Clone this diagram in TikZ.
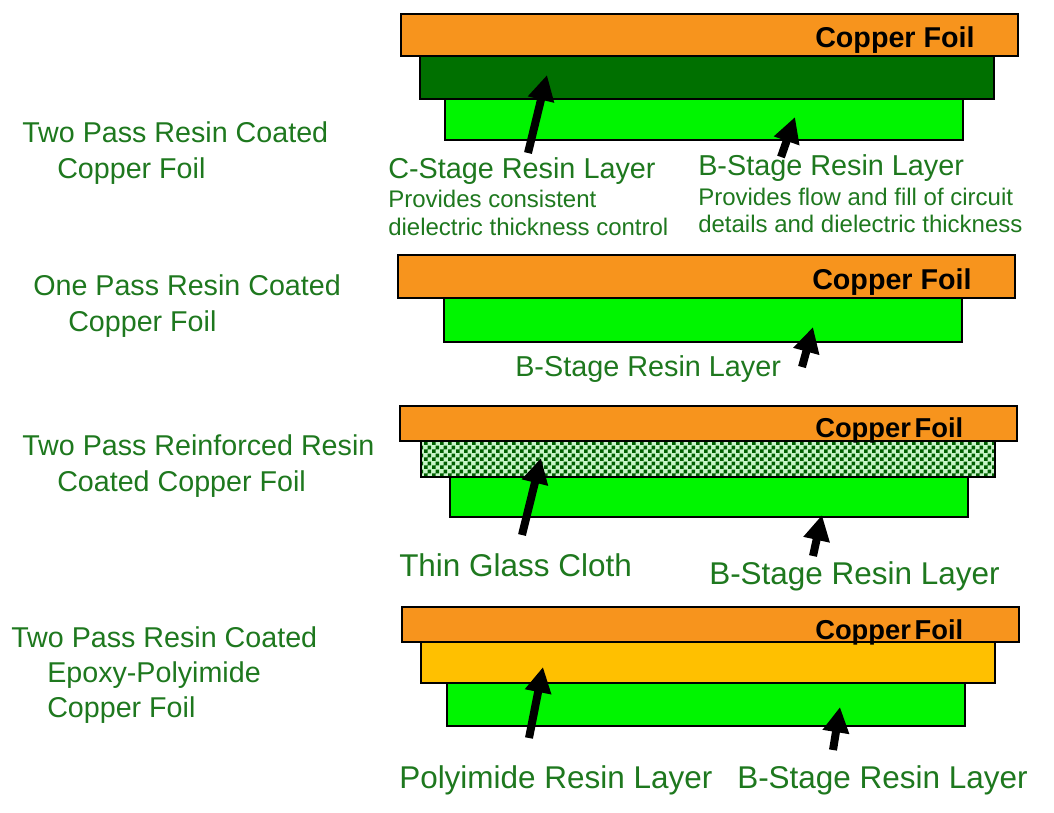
\documentclass[tikz,border=0pt]{standalone}
\usepackage{fontspec}
\setmainfont{Liberation Sans}
\usetikzlibrary{arrows.meta,patterns}
\definecolor{copper}{RGB}{247,148,29}
\definecolor{cstage}{RGB}{0,112,0}
\definecolor{bstage}{RGB}{0,245,0}
\definecolor{polyimide}{RGB}{255,192,0}
\definecolor{txtgreen}{RGB}{30,120,30}
\definecolor{glasslight}{RGB}{200,245,200}
\definecolor{glassdark}{RGB}{0,95,0}
\pgfdeclarepatternformonly{checker}{\pgfpointorigin}{\pgfqpoint{6pt}{6pt}}{\pgfqpoint{6pt}{6pt}}{%
  \pgfpathrectangle{\pgfpointorigin}{\pgfqpoint{3pt}{3pt}}%
  \pgfpathrectangle{\pgfqpoint{3pt}{3pt}}{\pgfqpoint{3pt}{3pt}}%
  \pgfusepath{fill}}
\tikzset{
  layer/.style={draw=black,line width=2.2pt},
  lbl/.style={text=txtgreen,inner sep=0pt,anchor=base west,font=\fontsize{21.5}{25}\selectfont},
  captxt/.style={text=txtgreen,inner sep=0pt,anchor=base west,font=\fontsize{21.6}{26}\selectfont},
  bigcaptxt/.style={text=txtgreen,inner sep=0pt,anchor=base west,font=\fontsize{23.6}{28}\selectfont},
  desc/.style={text=txtgreen,inner sep=0pt,anchor=base west,font=\fontsize{18}{22}\selectfont},
  foil/.style={text=black,inner sep=0pt,anchor=base west,font=\bfseries\fontsize{21.5}{26}\selectfont},
  smallfoil/.style={text=black,inner sep=0pt,anchor=base west,font=\bfseries\fontsize{20.5}{24}\selectfont},
  pointer/.style={line width=6pt,-{Triangle[width=19pt,length=19pt]}},
}
\begin{document}
\begin{tikzpicture}[x=0.75pt,y=-0.75pt]
\useasboundingbox (0,0) rectangle (1054,813);
% ---------- Section 1 ----------
\draw[layer,fill=bstage] (445,99) rectangle (963,140);
\draw[layer,fill=cstage] (420,56) rectangle (994,99);
\draw[layer,fill=copper] (401,14) rectangle (1018,56);
\node[foil] (f1) at (815,48) {Copper Foil};
\node[lbl] (l1a) at (22,143) {Two Pass Resin Coated};
\node[lbl] (l1b) at (57,179) {Copper Foil};
\node[captxt] (c1) at (388,179) {C-Stage Resin Layer};
\node[desc] (c1a) at (388,208) {Provides consistent};
\node[desc] (c1b) at (388,236) {dielectric thickness control};
\node[captxt] (b1) at (698,176) {B-Stage Resin Layer};
\node[desc] (b1a) at (698,206) {Provides flow and fill of circuit};
\node[desc] (b1b) at (698,233) {details and dielectric thickness};
\coordinate (t1a) at (528,153); \coordinate (h1a) at (547,75);
\coordinate (t1b) at (781,157); \coordinate (h1b) at (795,117);
\draw[pointer] (t1a) -- (h1a);
\draw[pointer] (t1b) -- (h1b);
% ---------- Section 2 ----------
\draw[layer,fill=bstage] (444,298) rectangle (962,342);
\draw[layer,fill=copper] (398,255) rectangle (1015,298);
\node[foil] (f2) at (812,290) {Copper Foil};
\node[lbl] (l2a) at (33,296) {One Pass Resin Coated};
\node[lbl] (l2b) at (68,331) {Copper Foil};
\node[captxt] (b2) at (515,376) {B-Stage Resin Layer};
\coordinate (t2) at (802,367); \coordinate (h2) at (813,327);
\draw[pointer] (t2) -- (h2);
% ---------- Section 3 ----------
\draw[layer,fill=bstage] (450,477) rectangle (968,517);
\fill[glasslight] (421,441) rectangle (995,477);
\fill[pattern=checker,pattern color=glassdark] (421,441) rectangle (995,477);
\draw[layer] (421,441) rectangle (995,477);
\draw[layer,fill=copper] (400,406) rectangle (1017,441);
\node[smallfoil] (f3) at (815,437) {\spaceskip=0.14em Copper Foil};
\node[lbl] (l3a) at (22,455) {Two Pass Reinforced Resin};
\node[lbl] (l3b) at (57,491) {Coated Copper Foil};
\node[bigcaptxt] (g3) at (399,576) {Thin Glass Cloth};
\node[bigcaptxt] (b3) at (709,584) {B-Stage Resin Layer};
\coordinate (t3a) at (522,535); \coordinate (h3a) at (541,458);
\coordinate (t3b) at (813,556); \coordinate (h3b) at (822,515);
\draw[pointer] (t3a) -- (h3a);
\draw[pointer] (t3b) -- (h3b);
% ---------- Section 4 ----------
\draw[layer,fill=bstage] (447,683) rectangle (965,726);
\draw[layer,fill=polyimide] (421,642) rectangle (995,683);
\draw[layer,fill=copper] (402,607) rectangle (1019,642);
\node[smallfoil] (f4) at (815,639) {\spaceskip=0.14em Copper Foil};
\node[lbl] (l4a) at (11,647) {Two Pass Resin Coated};
\node[lbl] (l4b) at (47,682) {Epoxy-Polyimide};
\node[lbl] (l4c) at (47,717) {Copper Foil};
\node[bigcaptxt] (p4) at (399,788) {Polyimide Resin Layer};
\node[bigcaptxt] (b4) at (737,788) {B-Stage Resin Layer};
\coordinate (t4a) at (529,738); \coordinate (h4a) at (543,667);
\coordinate (t4b) at (833,750); \coordinate (h4b) at (840,707);
\draw[pointer] (t4a) -- (h4a);
\draw[pointer] (t4b) -- (h4b);
\end{tikzpicture}
\end{document}
